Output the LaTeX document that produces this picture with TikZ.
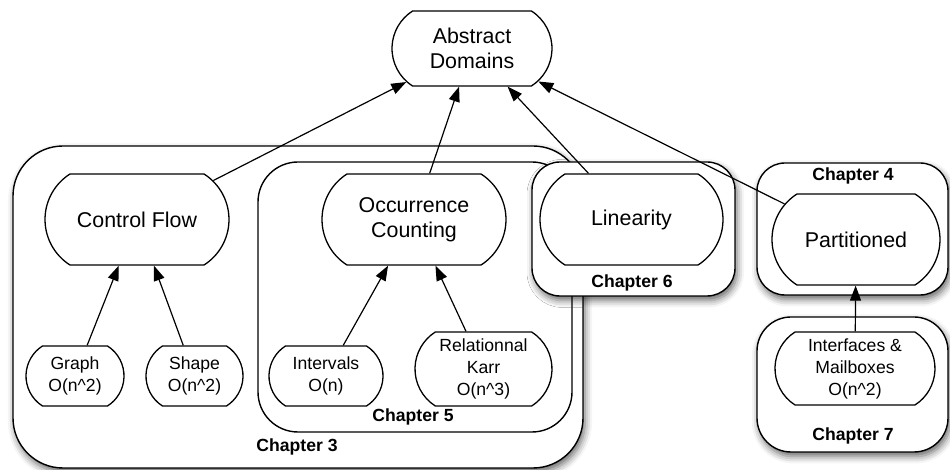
\documentclass[tikz,border=0pt]{standalone}
\usepackage{fontspec}
\setmainfont{Liberation Sans}
\usepackage{tikz}
\usetikzlibrary{shapes,arrows,arrows.meta,shadows.blur}
\tikzstyle{chapter} = [rectangle, draw, fill=white, line width=0.7pt,
    blur shadow={shadow xshift=1pt, shadow yshift=-2.2pt, shadow blur radius=3.5pt, shadow opacity=60}]
\tikzstyle{innerchapter} = [rectangle, draw, fill=white, line width=0.7pt]
\tikzstyle{dombox} = [rounded rectangle, rounded rectangle arc length=115, draw, fill=white,
    line width=0.65pt, inner sep=0pt, align=center, minimum height=45.5pt,
    font=\fontsize{10.7}{12.5}\selectfont]
\tikzstyle{subdombox} = [dombox, minimum height=30pt, font=\fontsize{8.8}{11}\selectfont]
\tikzstyle{chaptitle} = [inner sep=0pt, font=\bfseries\fontsize{8.8}{10}\selectfont]
\tikzstyle{link} = [draw, line width=0.6pt, -{Triangle[length=7.5pt,width=5.5pt]}]

\begin{document}
\begin{tikzpicture}[x=0.5pt, y=0.5pt]
    \useasboundingbox (0,0) rectangle (950,-470);

    % Chapter frames
    \node [chapter, rounded corners=25pt, minimum width=285pt, minimum height=161pt] (ch3box) at (298,-307) {};
    \node [innerchapter, rounded corners=20pt, minimum width=157pt, minimum height=135pt] (ch5box) at (415,-297) {};
    \node [chapter, rounded corners=14pt, minimum width=101.5pt, minimum height=67pt] (ch6box) at (633.5,-229) {};
    \node [chapter, rounded corners=14pt, minimum width=95.5pt, minimum height=66pt] (ch4box) at (852.5,-229) {};
    \node [chapter, rounded corners=17pt, minimum width=95.5pt, minimum height=67.5pt] (ch7box) at (852.5,-384.5) {};

    \node [chaptitle] (ch3title) at (297,-447) {Chapter 3};
    \node [chaptitle] (ch5title) at (413,-417) {Chapter 5};
    \node [chaptitle] (ch6title) at (632,-283) {Chapter 6};
    \node [chaptitle] (ch4title) at (853,-176) {Chapter 4};
    \node [chaptitle] (ch7title) at (853,-436) {Chapter 7};

    % Place nodes
    \node [dombox, minimum width=80pt, minimum height=37.5pt] (absdom) at (472,-48.5) {Abstract\\Domains};
    \node [dombox, minimum width=92pt] (ctrl) at (137,-219.5) {Control Flow};
    \node [dombox, right of=ctrl, node distance=138.5pt, minimum width=92pt] (occ) {Occurrence\\Counting};
    \node [dombox, right of=occ, node distance=108.75pt, minimum width=91.5pt] (lin) {Linearity};
    \node [dombox, minimum width=84pt] (part) at (856,-239.5) {Partitioned};

    \node [subdombox, minimum width=49pt] (graph) at (75,-376) {Graph\\O(n\textasciicircum 2)};
    \node [subdombox, right of=graph, node distance=59.75pt, minimum width=48.5pt] (shape) {Shape\\O(n\textasciicircum 2)};
    \node [subdombox, right of=shape, node distance=65.75pt, minimum width=57pt] (intv) {Intervals\\O(n)};
    \node [subdombox, minimum width=68.5pt, minimum height=37pt] (karr) at (483.5,-369) {Relationnal\\Karr\\O(n\textasciicircum 3)};
    \node [subdombox, minimum width=80pt, minimum height=36.5pt] (iface) at (855,-368.5) {Interfaces \&\\Mailboxes\\O(n\textasciicircum 2)};

    % Draw edges
    \path [link] (ctrl) -- (absdom);
    \path [link] (occ) -- (absdom);
    \path [link] (lin) -- (absdom);
    \path [link] (part) -- (absdom);
    \path [link] (graph) -- (ctrl);
    \path [link] (shape) -- (ctrl);
    \path [link] (intv) -- (occ);
    \path [link] (karr) -- (occ);
    \path [link] (iface) -- (part);

\end{tikzpicture}
\end{document}
